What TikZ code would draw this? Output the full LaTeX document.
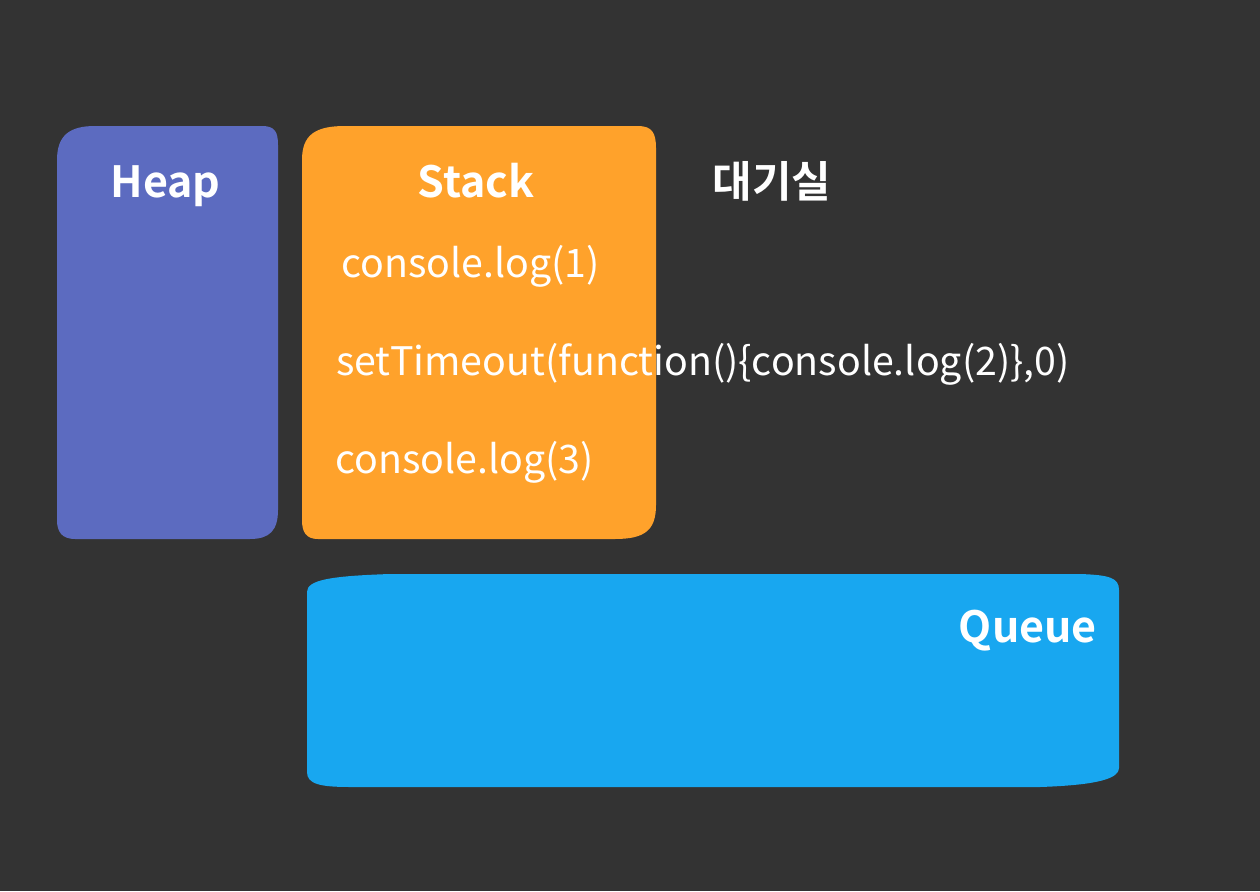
\documentclass[tikz,border=0pt]{standalone}
\usepackage{fontspec}
\setmainfont{Noto Sans CJK KR}[BoldFont={Noto Sans CJK KR Bold}]
\definecolor{bg}{HTML}{333333}
\definecolor{heapc}{HTML}{5C6BC0}
\definecolor{stackc}{HTML}{FFA22B}
\definecolor{queuec}{HTML}{18A7F0}
\tikzset{
  title/.style={text=white,font=\bfseries\fontsize{43}{50}\selectfont,inner sep=0pt,anchor=base},
  code/.style={text=white,font=\fontsize{39.3}{46}\selectfont,inner sep=0pt,anchor=base west}
}
\begin{document}
\begin{tikzpicture}[x=1pt,y=-1pt]
\fill[bg] (0,0) rectangle (1260,891);
\useasboundingbox (0,0) rectangle (1260,891);
% Heap
\fill[heapc] (57,160) .. controls (57,135) and (70,126) .. (95,126) -- (262,126) .. controls (275,126) and (278,132) .. (278,145) -- (278,510) .. controls (278,530) and (270,539) .. (250,539) -- (75,539) .. controls (62,539) and (57,532) .. (57,520) -- cycle;
% Stack
\fill[stackc] (302,160) .. controls (302,135) and (315,126) .. (345,126) -- (638,126) .. controls (652,126) and (656,133) .. (656,148) -- (656,505) .. controls (656,530) and (645,539) .. (615,539) -- (318,539) .. controls (306,539) and (302,532) .. (302,520) -- cycle;
% Queue
\fill[queuec] (307,592) .. controls (307,580) and (330,576) .. (390,574) -- (1080,574) .. controls (1110,575) and (1119,578) .. (1119,590) -- (1119,768) .. controls (1119,778) and (1100,785) .. (1040,787) -- (350,787) .. controls (320,787) and (307,784) .. (307,772) -- cycle;
\node[title] (heap) at (165.5,197) {Heap};
\node[title] (stack) at (476,197) {Stack};
\node[title] (wait) at (772,197) {대기실};
\node[code] (c1) at (341,277) {console.log(1)};
\node[code] (c2) at (336,375) {setTimeout(function()\{console.log(2)\},0)};
\node[code] (c3) at (335,473) {console.log(3)};
\node[title,anchor=base east] (queue) at (1097,642) {Queue};
\end{tikzpicture}
\end{document}
